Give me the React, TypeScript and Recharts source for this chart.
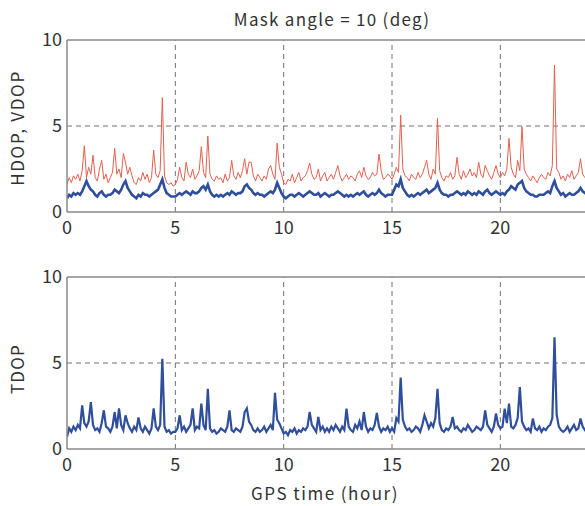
import React from "react";
import { LineChart, Line, XAxis, YAxis, ReferenceLine } from "recharts";

// GPS time sampled every 0.1 hour, 0.0 .. 24.0
const VDOP: number[] = [
  1.6, 2.0, 1.7, 2.1, 1.9, 2.2, 1.8, 2.4, 3.85, 2.0,
  2.6, 2.2, 3.3, 2.0, 1.8, 2.5, 3.0, 1.9, 2.2, 1.7,
  2.0, 2.3, 3.7, 2.2, 2.5, 2.0, 3.4, 2.9, 2.2, 2.6,
  2.1, 1.7, 1.6, 2.0, 1.8, 2.3, 1.9, 2.2, 1.7, 2.0,
  3.6, 2.2, 2.0, 2.4, 6.65, 2.1, 1.7, 1.6, 1.7, 1.5,
  1.6, 1.9, 2.6, 2.0, 1.8, 2.9, 2.2, 2.0, 2.5, 1.9,
  2.1, 2.4, 3.8, 2.3, 2.0, 4.42, 2.2, 1.9, 1.8, 2.1,
  1.9, 2.0, 1.7, 2.2, 1.8, 2.0, 3.0, 2.1, 1.9, 2.3,
  2.0, 2.4, 3.1, 2.2, 2.9, 2.9, 2.1, 1.8, 2.2, 2.0,
  1.8, 2.1, 1.9, 2.5, 2.7, 2.2, 1.9, 4.0, 2.6, 2.2,
  1.7, 1.6, 1.9, 1.8, 2.2, 1.7, 2.0, 2.3, 1.8, 2.0,
  2.1, 2.4, 2.85, 2.2, 1.9, 2.0, 2.5, 1.8, 2.1, 2.3,
  1.8, 2.0, 2.2, 1.9, 2.3, 2.7, 2.1, 1.8, 2.0, 2.2,
  1.9, 2.1, 2.0, 1.8, 2.2, 2.4, 2.0, 2.6, 2.1, 1.9,
  2.0, 2.3, 2.1, 2.2, 3.37, 2.4, 1.9, 2.0, 2.2, 2.1,
  1.9, 2.2, 2.6, 2.3, 5.64, 2.5, 2.1, 2.0, 1.8, 2.2,
  2.0, 1.9, 2.3, 2.0, 2.2, 2.6, 3.0, 2.2, 1.9, 2.5,
  2.2, 5.45, 2.4, 2.0, 1.8, 2.1, 2.0, 2.3, 1.9, 2.1,
  3.18, 2.2, 1.9, 2.4, 2.0, 2.2, 2.5, 2.1, 2.3, 2.0,
  2.9, 2.2, 2.0, 2.7, 2.4, 2.1, 1.9, 2.3, 2.7, 2.2,
  2.0, 2.3, 2.1, 2.5, 4.28, 2.6, 2.2, 2.0, 3.0, 2.4,
  4.96, 2.5, 2.2, 2.0, 1.8, 2.1, 1.9, 1.7, 2.0, 2.2,
  2.0, 1.9, 2.3, 2.1, 2.7, 8.55, 2.5, 2.3, 1.9, 2.1,
  1.8, 2.2, 2.0, 2.4, 1.9, 2.1, 2.3, 3.1, 2.2, 2.0,
  2.1,
];

const HDOP: number[] = [
  0.8, 1.0, 0.9, 1.1, 1.0, 1.1, 1.0, 1.2, 1.5, 1.8,
  1.5, 1.3, 1.2, 1.0, 0.9, 1.1, 1.2, 1.0, 0.9, 1.0,
  1.0, 1.1, 1.3, 1.2, 1.1, 1.3, 1.6, 1.8, 1.4, 1.2,
  1.0, 0.9, 0.8, 1.0, 0.9, 1.1, 1.0, 1.0, 0.9, 1.0,
  1.1, 1.2, 1.3, 1.6, 1.9, 1.4, 1.1, 1.0, 0.9, 0.9,
  0.9, 1.0, 1.1, 1.0, 1.1, 1.2, 1.1, 1.0, 1.2, 1.1,
  1.1, 1.2, 1.4, 1.5, 1.3, 1.6, 1.2, 1.0, 0.9, 1.0,
  0.9, 1.0, 0.9, 1.0, 1.1, 1.0, 1.2, 1.1, 1.0, 1.1,
  1.1, 1.2, 1.5, 1.6, 1.4, 1.3, 1.1, 1.0, 1.1, 1.0,
  1.0, 0.9, 1.0, 1.1, 1.2, 1.1, 1.3, 1.7, 1.4, 1.1,
  0.9, 0.8, 0.9, 1.0, 1.0, 0.9, 1.0, 1.1, 1.0, 0.9,
  1.0, 1.1, 1.2, 1.1, 1.0, 1.0, 1.1, 0.9, 1.0, 1.1,
  1.0, 0.9, 1.0, 1.0, 1.1, 1.2, 1.1, 1.0, 0.9, 1.0,
  0.9, 1.0, 0.9, 1.0, 1.1, 1.0, 1.1, 1.2, 1.0, 0.9,
  1.0, 1.1, 1.0, 1.1, 1.3, 1.1, 1.0, 0.9, 1.0, 1.0,
  1.0, 1.3, 1.6, 1.5, 1.9, 1.4, 1.2, 1.0, 0.9, 1.0,
  0.9, 1.0, 1.1, 1.0, 1.1, 1.2, 1.3, 1.1, 1.2, 1.3,
  1.4, 1.7, 1.3, 1.1, 1.0, 1.0, 0.9, 1.0, 1.0, 1.1,
  1.2, 1.1, 1.0, 1.1, 1.0, 1.2, 1.1, 1.0, 1.1, 1.0,
  1.2, 1.1, 1.0, 1.2, 1.3, 1.1, 1.0, 1.1, 1.2, 1.1,
  1.0, 1.1, 1.0, 1.2, 1.3, 1.5, 1.4, 1.3, 1.6, 1.7,
  1.8, 1.4, 1.2, 1.1, 1.0, 1.0, 0.9, 0.9, 1.0, 1.0,
  1.0, 1.1, 1.2, 1.1, 1.5, 1.8, 1.4, 1.2, 1.0, 1.1,
  0.9, 1.0, 1.1, 1.0, 1.0, 1.1, 1.2, 1.4, 1.2, 1.1,
  1.0,
];

const TDOP: number[] = [
  0.7, 1.2, 1.0, 1.3, 1.1, 1.4, 1.2, 2.54, 1.5, 1.3,
  1.6, 2.73, 1.4, 1.1, 1.2, 1.0, 1.5, 2.25, 1.3, 1.2,
  1.0, 1.3, 2.15, 1.2, 2.36, 1.4, 1.1, 1.96, 1.5, 1.2,
  1.0, 1.3, 1.1, 1.84, 1.2, 1.0, 1.3, 1.1, 0.9, 1.2,
  2.36, 1.3, 1.1, 1.4, 5.25, 1.3, 1.0, 1.1, 0.9, 1.0,
  1.0, 1.2, 1.96, 1.1, 1.3, 1.0, 1.2, 1.4, 2.36, 1.1,
  1.3, 1.2, 2.64, 1.4, 1.1, 3.5, 1.2, 1.0, 1.1, 0.9,
  1.0, 1.2, 1.1, 1.0, 1.3, 2.25, 1.1, 1.0, 1.2, 1.1,
  1.0, 1.3, 2.15, 2.36, 1.6, 1.4, 1.1, 1.0, 1.2, 1.0,
  1.1, 1.3, 1.0, 1.2, 1.4, 1.1, 3.26, 1.7, 1.5, 1.2,
  0.9, 1.0, 0.8, 1.1, 1.0, 1.2, 0.9, 1.1, 1.0, 1.2,
  1.1, 1.3, 2.15, 1.4, 1.2, 1.0, 1.86, 1.1, 1.3, 1.0,
  1.2, 1.0, 1.3, 1.1, 1.4, 1.2, 1.0, 1.3, 1.1, 2.35,
  1.3, 1.1, 1.0, 1.4, 1.2, 1.6, 1.1, 2.15, 1.3, 1.0,
  1.2, 1.1, 1.4, 2.1, 1.3, 1.0, 1.2, 1.1, 1.3, 1.0,
  1.2, 1.0, 1.8, 1.6, 4.15, 1.7, 1.3, 1.1, 1.2, 1.0,
  1.1, 1.3, 1.2, 1.0, 1.4, 1.96, 1.6, 1.2, 1.5, 1.3,
  1.8, 3.5, 1.5, 1.1, 1.0, 1.2, 1.1, 1.3, 1.86, 1.2,
  1.3, 1.1, 1.0, 1.2, 1.1, 1.4, 1.2, 1.0, 1.1, 1.3,
  1.2, 1.1, 1.3, 2.25, 1.4, 1.2, 1.0, 1.3, 2.06, 1.4,
  1.2, 1.3, 2.35, 1.5, 2.64, 1.3, 1.2, 1.4, 1.8, 3.6,
  1.6, 1.3, 1.1, 1.2, 1.0, 1.77, 1.2, 1.1, 1.3, 1.0,
  1.2, 1.1, 1.3, 1.4, 1.8, 6.5, 2.0, 1.3, 1.1, 1.0,
  1.1, 1.3, 1.0, 1.2, 1.4, 1.1, 1.2, 1.77, 1.3, 1.1,
  1.2,
];

const X_TICKS = [0, 5, 10, 15, 20];
const Y_TICKS = [0, 5, 10];
const X_GRID = [5, 10, 15, 20];
const Y_GRID = [5];

const data = VDOP.map((v, i) => ({
  t: i / 10,
  vdop: v,
  hdop: HDOP[i],
  tdop: TDOP[i],
}));

const FONT = "'Noto Sans CJK JP', 'Noto Sans', sans-serif";
const TEXT = "#333";
const FRAME = "#8a8a8a";
const GRID = "#707070";
const BLUE = "#2f4f9c";
const RED = "#e4604f";

const tickStyle = { fontSize: 18, fill: TEXT, fontFamily: FONT };

function Panel({ top, children }: { top: number; children: React.ReactNode }) {
  return (
    <LineChart
      width={590}
      height={242}
      data={data}
      margin={{ top, right: 3, bottom: 0, left: 0 }}
      style={{ position: "absolute", left: 0, top: 0 }}
    >
      <XAxis
        dataKey="t"
        type="number"
        domain={[0, 24]}
        ticks={X_TICKS}
        tickLine={false}
        tickSize={0}
        tickMargin={9}
        axisLine={{ stroke: FRAME, strokeWidth: 1.5 }}
        tick={tickStyle}
        height={242 - top - 172}
        allowDataOverflow
      />
      <YAxis
        type="number"
        domain={[0, 10]}
        ticks={Y_TICKS}
        tickLine={false}
        tickSize={0}
        tickMargin={5}
        axisLine={{ stroke: FRAME, strokeWidth: 1.5 }}
        tick={tickStyle}
        width={67}
        allowDataOverflow
      />
      {X_GRID.map((x) => (
        <ReferenceLine key={"x" + x} x={x} stroke={GRID} strokeDasharray="5 4" />
      ))}
      {Y_GRID.map((y) => (
        <ReferenceLine key={"y" + y} y={y} stroke={GRID} strokeDasharray="5 4" />
      ))}
      <ReferenceLine y={10} stroke={FRAME} strokeWidth={1.5} />
      <ReferenceLine x={24} stroke={FRAME} strokeWidth={1.5} />
      {children}
    </LineChart>
  );
}

export default function App() {
  return (
    <div
      style={{
        position: "absolute",
        left: 0,
        top: 0,
        width: 585,
        height: 506,
        overflow: "hidden",
        background: "#fff",
        fontFamily: FONT,
        color: TEXT,
      }}
    >
      <div style={{ position: "absolute", left: 0, top: 0, width: 590, height: 242 }}>
        <Panel top={40}>
          <Line
            type="linear"
            dataKey="vdop"
            stroke={RED}
            strokeWidth={1}
            dot={false}
            isAnimationActive={false}
          />
          <Line
            type="linear"
            dataKey="hdop"
            stroke={BLUE}
            strokeWidth={2.6}
            dot={false}
            isAnimationActive={false}
          />
        </Panel>
      </div>
      <div style={{ position: "absolute", left: 0, top: 250, width: 590, height: 242 }}>
        <Panel top={27}>
          <Line
            type="linear"
            dataKey="tdop"
            stroke={BLUE}
            strokeWidth={2.2}
            dot={false}
            isAnimationActive={false}
          />
        </Panel>
      </div>
      <div
        style={{
          position: "absolute",
          left: 332,
          top: 19,
          transform: "translate(-50%, -50%)",
          fontSize: 17,
          letterSpacing: 1.3,
          lineHeight: "22px",
          whiteSpace: "nowrap",
        }}
      >
        Mask angle = 10 (deg)
      </div>
      <div
        style={{
          position: "absolute",
          left: 17,
          top: 128,
          transform: "translate(-50%, -50%) rotate(-90deg)",
          fontSize: 17,
          letterSpacing: 1.7,
          lineHeight: "22px",
          whiteSpace: "nowrap",
        }}
      >
        HDOP, VDOP
      </div>
      <div
        style={{
          position: "absolute",
          left: 17,
          top: 369,
          transform: "translate(-50%, -50%) rotate(-90deg)",
          fontSize: 17,
          letterSpacing: 1.2,
          lineHeight: "22px",
          whiteSpace: "nowrap",
        }}
      >
        TDOP
      </div>
      <div
        style={{
          position: "absolute",
          left: 325,
          top: 493,
          transform: "translate(-50%, -50%)",
          fontSize: 17,
          letterSpacing: 1.5,
          lineHeight: "20px",
          whiteSpace: "nowrap",
        }}
      >
        GPS time (hour)
      </div>
    </div>
  );
}
